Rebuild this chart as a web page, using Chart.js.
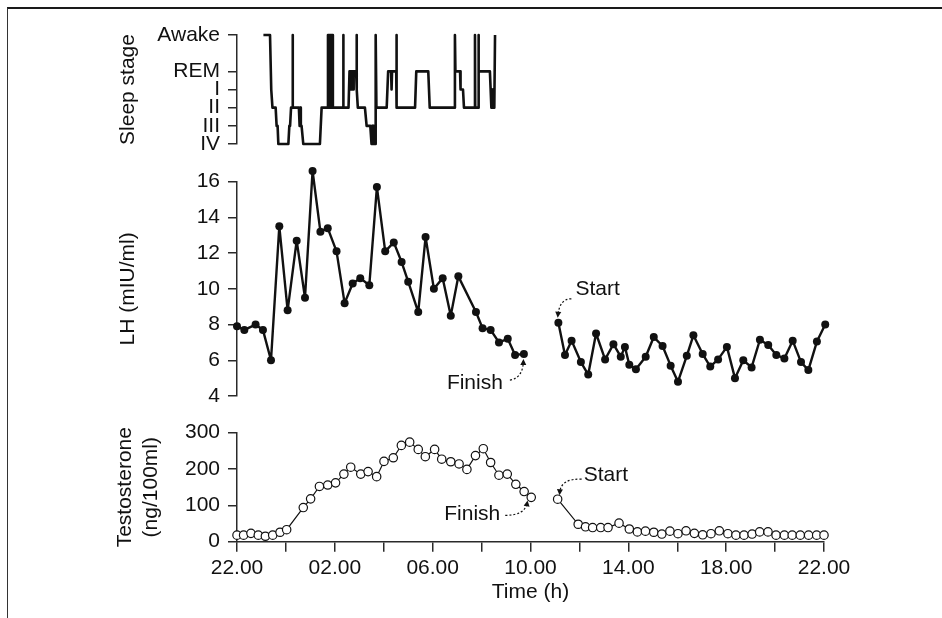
<!DOCTYPE html>
<html>
<head>
<meta charset="utf-8">
<script src="https://cdn.jsdelivr.net/npm/chart.js@4.4.1/dist/chart.umd.min.js"></script>
<style>
  html, body { margin: 0; padding: 0; background: #fff; }
  #wrap { position: relative; width: 942px; height: 618px; overflow: hidden; }
  #wrap canvas { position: absolute; left: 0; top: 0; }
  #frame { position: absolute; left: 7px; top: 7px; right: -10px; bottom: -10px;
           border-top: 2px solid #1a1a1a; border-left: 1.5px solid #333; }
</style>
</head>
<body>
<div id="wrap">
  <div id="frame"></div>
  <canvas id="sleepChart" width="942" height="618"></canvas>
  <canvas id="lhChart" width="942" height="618"></canvas>
  <canvas id="testoChart" width="942" height="618"></canvas>
</div>
<script>
// time is in hours after 22.00
var timeTickLabels = ['22.00', '02.00', '06.00', '10.00', '14.00', '18.00', '22.00'];

// sleep stage scale: Awake sits two steps above REM
var sleepTickValues = [0, 1, 2, 3, 4, 6];
var sleepTickLabels = ['IV', 'III', 'II', 'I', 'REM', 'Awake'];

// hypnogram break points (same hour twice = vertical jump)
var sleepHours = [1.08, 1.35, 1.40, 1.45, 1.58, 1.62, 1.66, 1.69, 2.10, 2.14, 2.17, 2.21,
  2.28, 2.28, 2.28, 2.53, 2.56, 2.58, 2.61, 2.64, 2.71, 3.39, 3.46, 3.71,
  3.72, 3.76, 3.76, 3.80, 3.80, 3.84, 3.84, 3.88, 3.88, 3.92, 3.92,
  4.35, 4.35, 4.35, 4.56, 4.60, 4.65, 4.66, 4.69, 4.70, 4.75, 4.76, 4.78, 4.87, 4.89, 4.90, 4.94,
  5.23, 5.30, 5.45, 5.50, 5.53, 5.56, 5.59, 5.62, 5.65, 5.66, 5.68, 5.70,
  6.12, 6.18, 6.30, 6.31, 6.33, 6.34, 6.51, 6.52, 6.53, 7.28, 7.33, 7.82, 7.88,
  8.90, 8.91, 8.93, 9.12, 9.14, 9.24, 9.28, 9.73, 9.73, 9.74, 9.86, 9.87, 9.89,
  10.34, 10.37, 10.40, 10.43, 10.46, 10.49, 10.52, 10.54, 10.55];
var sleepStages = [6, 6, 3, 2, 2, 1, 1, 0, 0, 1, 1, 2,
  2, 6, 2, 2, 1, 2, 1, 1, 0, 0, 2, 2,
  6, 6, 2, 2, 6, 6, 2, 2, 6, 6, 2,
  2, 6, 2, 2, 4, 4, 3, 3, 4, 4, 3, 4, 4, 6, 3, 2,
  2, 1, 1, 0, 1, 0, 1, 0, 0, 6, 6, 2,
  2, 4, 4, 3, 3, 4, 4, 6, 2, 2, 4, 4, 2,
  2, 6, 4, 4, 3, 3, 2, 2, 6, 2, 2, 6, 4,
  4, 3, 2, 3, 2, 3, 2, 2, 6];

// LH (mIU/ml)
var lhNightHours = [0.0, 0.30, 0.76, 1.06, 1.39, 1.73, 2.07, 2.44, 2.78, 3.09, 3.41, 3.71,
  4.07, 4.40, 4.73, 5.04, 5.41, 5.72, 6.06, 6.41, 6.73, 7.00, 7.41, 7.71, 8.05, 8.41,
  8.74, 9.05, 9.77, 10.04, 10.37, 10.71, 11.07, 11.37, 11.73];
var lhNight = [7.9, 7.7, 8.0, 7.7, 6.0, 13.5, 8.8, 12.7, 9.5, 16.6, 13.2, 13.4,
  12.1, 9.2, 10.3, 10.6, 10.2, 15.7, 12.1, 12.6, 11.5, 10.4, 8.7, 12.9, 10.0, 10.6,
  8.5, 10.7, 8.7, 7.8, 7.7, 7.0, 7.2, 6.3, 6.35];
var lhDayHours = [13.14, 13.41, 13.68, 14.06, 14.36, 14.68, 15.05, 15.39, 15.69, 15.86,
  16.04, 16.31, 16.71, 17.04, 17.40, 17.73, 18.03, 18.39, 18.66, 19.04, 19.35, 19.67,
  20.03, 20.36, 20.70, 21.04, 21.38, 21.72, 22.05, 22.38, 22.72, 23.06, 23.36, 23.71, 24.05];
var lhDay = [8.1, 6.3, 7.1, 5.9, 5.2, 7.5, 6.05, 6.9, 6.2, 6.75,
  5.75, 5.5, 6.2, 7.3, 6.8, 5.7, 4.8, 6.25, 7.4, 6.35, 5.65, 6.05,
  6.75, 5.0, 6.0, 5.6, 7.15, 6.85, 6.3, 6.1, 7.1, 5.9, 5.45, 7.05, 8.0];

// Testosterone (ng/100ml)
var testoNightHours = [0, 0.27, 0.57, 0.87, 1.16, 1.46, 1.76, 2.03, 2.71, 3.01, 3.37, 3.71,
  4.03, 4.37, 4.65, 5.06, 5.36, 5.71, 6.01, 6.39, 6.72, 7.06, 7.41, 7.70, 8.08, 8.37,
  8.74, 9.08, 9.40, 9.75, 10.07, 10.37, 10.71, 11.05, 11.40, 11.74, 12.03];
var testoNight = [18, 18, 23, 18, 15, 18, 26, 33, 94, 118, 152, 156,
  162, 186, 205, 186, 193, 179, 221, 231, 265, 274, 254, 234, 254, 227,
  220, 214, 199, 237, 256, 218, 183, 186, 158, 138, 122];
var testoDayHours = [13.11, 13.95, 14.25, 14.54, 14.87, 15.17, 15.62, 16.04, 16.37, 16.70,
  17.04, 17.37, 17.70, 18.03, 18.36, 18.70, 19.04, 19.38, 19.72, 20.07, 20.40, 20.73,
  21.06, 21.37, 21.71, 22.04, 22.38, 22.70, 23.03, 23.37, 23.70, 24.0];
var testoDay = [117, 48, 41, 39, 39, 39, 51, 35, 27, 29,
  26, 21, 29, 22, 30, 23, 19, 22, 30, 22, 18, 18,
  21, 27, 27, 18, 18, 18, 18, 18, 18, 18];

var FONT = "'Liberation Sans', Arial, Helvetica, sans-serif";
var INK = '#111';
var AXIS = '#2a2a2a';

Chart.defaults.font.family = FONT;
Chart.defaults.font.size = 21;
Chart.defaults.color = INK;

// every panel gets the same left axis width so the time scales line up
var AXIS_W = 237;
var RIGHT_PAD = 118;

function pairs(xs, ys) {
    return xs.map(function(x, i) { return {x: x, y: ys[i]}; });
}

function timeAxis(show) {
    var ax = {
        type: 'linear', min: 0, max: 24, display: show,
        grid: { drawOnChartArea: false, drawTicks: true, tickLength: 10, color: AXIS, lineWidth: 1.5 },
        border: { display: true, color: AXIS, width: 1.5 },
        ticks: {
            stepSize: 2, padding: 4, maxRotation: 0, autoSkip: false,
            callback: function(v) { return v % 4 === 0 ? timeTickLabels[v / 4] : ''; }
        },
        title: { display: show, text: 'Time (h)', padding: { top: 4, bottom: 13 } }
    };
    if (show) {
        ax.afterFit = function(scale) { scale.height = 76.3; };
    }
    return ax;
}

function leftAxis(extra, titleText, titlePad) {
    var ax = {
        grid: { drawOnChartArea: false, drawTicks: true, tickLength: 9, color: AXIS, lineWidth: 1.5 },
        border: { display: true, color: AXIS, width: 1.5 },
        ticks: { padding: 8, autoSkip: false },
        title: { display: true, text: titleText, padding: { top: titlePad, bottom: 0 } },
        afterFit: function(scale) { scale.width = AXIS_W; }
    };
    return Object.assign(ax, extra, { ticks: Object.assign(ax.ticks, extra.ticks || {}) });
}

// points above the top tick (e.g. the 16.6 peak) are skipped by Chart.js, draw them anyway
var overflowPoints = {
    id: 'overflowPoints',
    afterDatasetsDraw: function(chart) {
        var area = chart.chartArea;
        var full = { left: 0, top: 0, right: chart.width, bottom: chart.height };
        chart.data.datasets.forEach(function(ds, i) {
            chart.getDatasetMeta(i).data.forEach(function(pt) {
                if (pt.y < area.top - 2 || pt.y > area.bottom + 2) {
                    pt.draw(chart.ctx, full);
                }
            });
        });
    }
};

// dotted curved arrows with a label, anchored to a data point
var calloutPlugin = {
    id: 'callouts',
    afterDatasetsDraw: function(chart, args, opts) {
        var ctx = chart.ctx;
        (opts.items || []).forEach(function(c) {
            var el = chart.getDatasetMeta(c.dataset).data[c.index];
            var px = el.x, py = el.y;
            ctx.save();
            ctx.font = '21px ' + FONT;
            ctx.fillStyle = INK;
            ctx.textBaseline = 'middle';
            ctx.textAlign = c.align;
            ctx.fillText(c.text, px + c.textAt[0], py + c.textAt[1]);

            var sx = px + c.from[0], sy = py + c.from[1];
            var cx = px + c.ctrl[0], cy = py + c.ctrl[1];
            var tx = px + c.tip[0], ty = py + c.tip[1];
            ctx.strokeStyle = INK;
            ctx.lineWidth = 1.2;
            ctx.setLineDash([2, 2]);
            ctx.beginPath();
            ctx.moveTo(sx, sy);
            ctx.quadraticCurveTo(cx, cy, tx, ty);
            ctx.stroke();

            var a = Math.atan2(ty - cy, tx - cx);
            var dx = Math.cos(a), dy = Math.sin(a);
            ctx.setLineDash([]);
            ctx.beginPath();
            ctx.moveTo(tx + dx * 2, ty + dy * 2);
            ctx.lineTo(tx - dx * 4 - dy * 3, ty - dy * 4 + dx * 3);
            ctx.lineTo(tx - dx * 4 + dy * 3, ty - dy * 4 - dx * 3);
            ctx.closePath();
            ctx.fill();
            ctx.restore();
        });
    }
};

var base = {
    responsive: false,
    animation: false,
    devicePixelRatio: 1,
    events: [],
    plugins: { legend: { display: false }, tooltip: { enabled: false } }
};

// hypnogram
new Chart(document.getElementById('sleepChart'), {
    type: 'line',
    data: {
        datasets: [{
            data: pairs(sleepHours, sleepStages),
            borderColor: INK, borderWidth: 2.6, pointRadius: 0,
            borderJoinStyle: 'round', tension: 0, clip: false
        }]
    },
    options: Object.assign({}, base, {
        layout: { padding: { left: 0, right: RIGHT_PAD, top: 35, bottom: 474 } },
        scales: {
            x: timeAxis(false),
            y: leftAxis({
                min: 0, max: 6,
                afterBuildTicks: function(scale) {
                    scale.ticks = sleepTickValues.map(function(v) { return {value: v}; });
                },
                ticks: {
                    callback: function(v) { return sleepTickLabels[sleepTickValues.indexOf(v)]; }
                }
            }, 'Sleep stage', 116)
        }
    })
});

// LH
var lhStyle = {
    borderColor: INK, borderWidth: 2.4, borderJoinStyle: 'round',
    pointRadius: 4, pointBackgroundColor: INK, pointBorderWidth: 0,
    tension: 0, clip: false
};
new Chart(document.getElementById('lhChart'), {
    type: 'line',
    data: {
        datasets: [
            Object.assign({ data: pairs(lhNightHours, lhNight) }, lhStyle),
            Object.assign({ data: pairs(lhDayHours, lhDay) }, lhStyle)
        ]
    },
    plugins: [overflowPoints, calloutPlugin],
    options: Object.assign({}, base, {
        layout: { padding: { left: 0, right: RIGHT_PAD, top: 181.7, bottom: 222 } },
        plugins: Object.assign({}, base.plugins, {
            callouts: { items: [
                { dataset: 0, index: lhNight.length - 1, text: 'Finish', align: 'right',
                  textAt: [-21, 29], from: [-14, 26], ctrl: [-1, 24], tip: [-0.5, 7] },
                { dataset: 1, index: 0, text: 'Start', align: 'left',
                  textAt: [17, -34], from: [13, -24], ctrl: [1, -24], tip: [-0.5, -7] }
            ] }
        }),
        scales: {
            x: timeAxis(false),
            y: leftAxis({ min: 4, max: 16, ticks: { stepSize: 2 } }, 'LH (mIU/ml)', 116)
        }
    })
});

// Testosterone
var testoStyle = {
    borderColor: INK, borderWidth: 1.2,
    pointRadius: 4.2, pointBackgroundColor: '#fff', pointBorderColor: INK, pointBorderWidth: 1.2,
    tension: 0, clip: false
};
new Chart(document.getElementById('testoChart'), {
    type: 'line',
    data: {
        datasets: [
            Object.assign({ data: pairs(testoNightHours, testoNight) }, testoStyle),
            Object.assign({ data: pairs(testoDayHours, testoDay) }, testoStyle)
        ]
    },
    plugins: [overflowPoints, calloutPlugin],
    options: Object.assign({}, base, {
        layout: { padding: { left: 0, right: RIGHT_PAD, top: 432.7, bottom: 0 } },
        plugins: Object.assign({}, base.plugins, {
            callouts: { items: [
                { dataset: 0, index: testoNight.length - 1, text: 'Finish', align: 'right',
                  textAt: [-31, 17], from: [-26, 18], ctrl: [-6, 18], tip: [-4, 5] },
                { dataset: 1, index: 0, text: 'Start', align: 'left',
                  textAt: [26, -24], from: [24, -20], ctrl: [3, -21], tip: [2, -6] }
            ] }
        }),
        scales: {
            x: timeAxis(true),
            y: leftAxis({ min: 0, max: 300, ticks: { stepSize: 100 } },
                        ['Testosterone', '(ng/100ml)'], 113)
        }
    })
});
</script>
</body>
</html>
